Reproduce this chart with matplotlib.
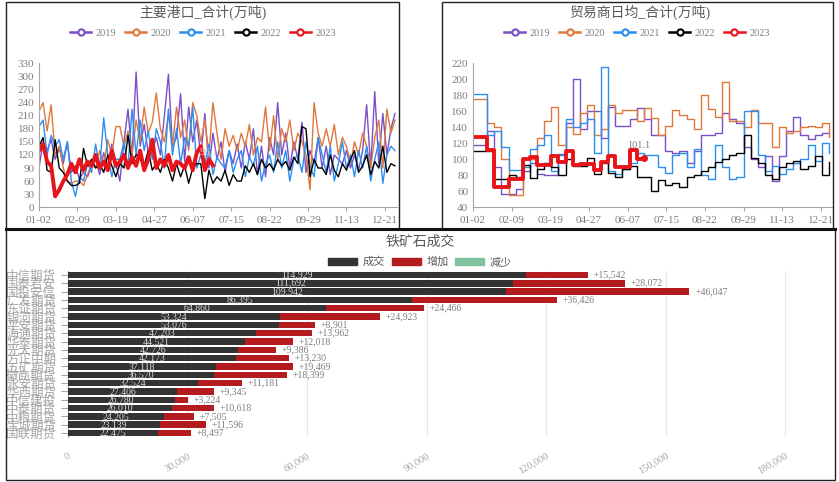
import numpy as np
import matplotlib
matplotlib.use("Agg")
import matplotlib.pyplot as plt
from matplotlib.lines import Line2D
from matplotlib.patches import Patch, Rectangle

plt.rcParams['font.family'] = ['Liberation Serif', 'Noto Sans CJK SC', 'DejaVu Sans']

# ---------- data ----------
tick_labels = ['01-02', '02-09', '03-19', '04-27', '06-07',
               '07-15', '08-22', '09-29', '11-13', '12-21']
years = ['2019', '2020', '2021', '2022', '2023']
colors = ['#7b4fc8', '#e0783c', '#2a8ff0', '#000000', '#e8141a']

# 主要港口_合计 (every 4th day)
port_2019 = [90, 150, 130, 155, 110, 135, 100, 150, 80, 95,
             65, 80, 70, 95, 110, 75, 125, 90, 145, 100,
             60, 150, 225, 115, 310, 140, 190, 125, 130, 160,
             120, 210, 305, 140, 160, 260, 105, 230, 150, 200,
             115, 215, 90, 170, 110, 150, 80, 130, 100, 145,
             90, 150, 110, 180, 75, 140, 70, 160, 120, 240,
             120, 170, 90, 150, 110, 195, 80, 130, 100, 160,
             90, 140, 75, 120, 110, 100, 130, 90, 120, 85,
             130, 235, 90, 265, 100, 215, 120, 180, 215]
port_2020 = [220, 240, 175, 235, 120, 140, 90, 60, 55, 60,
             60, 50, 75, 100, 90, 130, 95, 155, 120, 185,
             185, 140, 175, 120, 200, 150, 230, 170, 195, 262,
             180, 150, 215, 140, 230, 160, 200, 130, 240, 210,
             150, 200, 120, 240, 170, 110, 180, 140, 165, 130,
             170, 140, 190, 120, 160, 150, 230, 130, 210, 110,
             180, 150, 200, 130, 170, 150, 120, 40, 240, 170,
             140, 180, 140, 190, 120, 160, 140, 100, 150, 120,
             170, 140, 90, 160, 200, 90, 225, 170, 200]
port_2021 = [185, 200, 120, 165, 140, 155, 110, 150, 60, 25,
             70, 60, 100, 80, 145, 90, 205, 120, 70, 110,
             110, 150, 90, 225, 120, 200, 130, 175, 110, 180,
             150, 90, 225, 120, 180, 100, 160, 140, 230, 90,
             120, 100, 145, 75, 115, 100, 90, 130, 80, 110,
             130, 70, 115, 95, 140, 60, 100, 120, 80, 150,
             90, 130, 60, 110, 120, 80, 150, 95, 70, 160,
             120, 80, 140, 60, 100, 150, 90, 120, 70, 130,
             90, 140, 60, 110, 150, 55, 120, 140, 130]
port_2022 = [140, 160, 85, 80, 155, 90, 80, 60, 50, 50,
             55, 135, 95, 110, 90, 100, 80, 120, 95, 70,
             100, 90, 165, 100, 120, 110, 95, 130, 85, 100,
             80, 110, 90, 60, 100, 70, 95, 55, 90, 100,
             100, 20, 85, 55, 70, 60, 85, 50, 75, 60,
             60, 95, 80, 100, 75, 110, 90, 100, 85, 110,
             95, 105, 85, 115, 100, 185, 180, 70, 110, 90,
             90, 75, 120, 85, 70, 100, 85, 110, 130, 80,
             95, 120, 75, 105, 90, 140, 80, 100, 95]
port_2023 = [130, 145, 105, 95, 25, 40, 60, 75, 100, 80,
             110, 85, 105, 95, 120, 90, 105, 85, 130, 95,
             105, 120, 90, 115, 95, 130, 85, 110, 155, 90,
             110, 95, 120, 85, 105, 100, 90, 115, 85, 125,
             140, 85, 110, 96.1]

# 贸易商日均_合计 (weekly)
trade_2019 = [118, 118, 135, 90, 57, 57, 63, 85, 95, 82, 80, 80, 107, 145, 200, 138,
              160, 160, 127, 165, 142, 142, 150, 164, 150, 130, 130, 110, 108, 110,
              95, 110, 130, 131, 133, 158, 150, 145, 115, 100, 90, 104, 73, 104, 135,
              153, 130, 126, 130, 133, 133]
trade_2020 = [175, 175, 145, 140, 100, 55, 55, 100, 100, 127, 148, 165, 118, 140, 132,
              158, 168, 130, 138, 168, 158, 162, 162, 148, 164, 152, 130, 142, 162,
              155, 150, 138, 180, 163, 153, 197, 148, 148, 140, 162, 145, 145, 115,
              140, 133, 135, 140, 142, 140, 146, 128]
trade_2021 = [182, 182, 130, 135, 115, 87, 87, 90, 113, 118, 130, 85, 105, 150, 140,
              145, 150, 108, 215, 85, 82, 88, 95, 108, 105, 105, 90, 83, 105, 108, 90,
              113, 80, 75, 118, 90, 75, 78, 160, 160, 105, 85, 92, 82, 88, 95, 100,
              118, 98, 120, 108]
trade_2022 = [110, 110, 110, 75, 75, 80, 78, 93, 77, 88, 95, 90, 80, 100, 92, 92, 102,
              82, 95, 83, 78, 88, 92, 78, 78, 60, 74, 68, 70, 65, 78, 80, 85, 90, 97,
              100, 105, 108, 130, 102, 95, 80, 75, 90, 95, 98, 88, 92, 104, 80, 97]
trade_2023 = [128, 128, 112, 66, 66, 76, 76, 100, 103, 93, 93, 104, 97, 110, 93, 94,
              94, 87, 97, 104, 91, 91, 112, 101, 101.1]

# 铁矿石成交
brokers = ['中信期货', '国泰君安', '国投安信', '广发期货', '东证期货', '银河期货',
           '平安期货', '海通期货', '华泰期货', '光大期货', '方正中期', '五矿期货',
           '徽商期货', '永安期货', '华西期货', '中信建投', '中泰期货', '中粮期货',
           '宝城期货', '国联期货']
volume = [114929, 111692, 109942, 86395, 64860, 53324, 53076, 47203, 44521, 42726,
          42173, 37118, 36570, 32524, 27406, 26780, 26010, 24205, 23139, 22475]
increase = [15542, 28072, 46047, 36426, 24466, 24923, 8901, 13962, 12018, 9386,
            13230, 19469, 18399, 11181, 9345, 3224, 10618, 7505, 11596, 8497]

# ---------- figure ----------
fig = plt.figure(figsize=(8.39, 4.82), dpi=100)
W, H = 839, 482


def fx(px):
    return px / W


def fy(py):
    return 1 - py / H


# panel frames
for x0, y0, x1, y1 in [(6, 2, 399, 229), (442, 2, 833, 229), (6, 229, 835, 480)]:
    fig.add_artist(Rectangle((fx(x0), fy(y1)), fx(x1 - x0), (y1 - y0) / H,
                             transform=fig.transFigure, fill=False,
                             edgecolor='#222222', linewidth=1.0))
fig.add_artist(Line2D([fx(6), fx(835)], [fy(229), fy(229)], transform=fig.transFigure,
                      color='#111111', linewidth=2.2))

gray = '#7f7f7f'


def style_top(ax, ylim, yticks, xmax):
    ax.set_xlim(0, xmax)
    ax.set_ylim(*ylim)
    ax.set_yticks(yticks)
    ax.set_xticks(np.arange(len(tick_labels)) * 38)
    ax.set_xticklabels(tick_labels)
    for s in ['top', 'right']:
        ax.spines[s].set_visible(False)
    for s in ['left', 'bottom']:
        ax.spines[s].set_color('#a6a6a6')
        ax.spines[s].set_linewidth(0.8)
    ax.tick_params(axis='both', colors='#a6a6a6', labelcolor=gray, labelsize=8,
                   length=3, width=0.8)
    ax.tick_params(axis='y', length=0)


def top_legend(cx):
    handles = [Line2D([], [], color=c, lw=1.8, marker='o', markersize=4.5,
                      markerfacecolor='white', markeredgewidth=1.5)
               for c in colors]
    fig.legend(handles, years, loc='center', bbox_to_anchor=(fx(cx), fy(33)),
               ncol=5, frameon=False, fontsize=7.5, handlelength=2.0,
               columnspacing=0.9, handletextpad=0.4, labelcolor=gray)


# top-left
ax1 = fig.add_axes([fx(39), fy(207.3), fx(397 - 39), (207.3 - 63.3) / H])
series1 = [port_2019, port_2020, port_2021, port_2022]
for vals, c in zip(series1, colors[:4]):
    x = np.arange(len(vals)) * 4
    ax1.plot(x, vals, color=c, lw=1.0)
x23 = np.arange(len(port_2023)) * 4
ax1.plot(x23, port_2023, color=colors[4], lw=2.8)
ax1.annotate('96.1', (x23[-1], port_2023[-1]), xytext=(-3, 9), textcoords='offset points',
             ha='center', va='center', fontsize=7.5, color='#d9d9d9')
style_top(ax1, (0, 330), np.arange(0, 331, 30), 354)
fig.text(fx(203), fy(12), '主要港口_合计(万吨)', ha='center', va='center',
         fontsize=10, color='#595959')
top_legend(203)

# top-right
ax2 = fig.add_axes([fx(473), fy(207.3), fx(832 - 473), (207.3 - 63.3) / H])
series2 = [trade_2019, trade_2020, trade_2021, trade_2022]
for vals, c in zip(series2, colors[:4]):
    x = np.arange(len(vals)) * 7
    ax2.plot(x, vals, color=c, lw=1.0, drawstyle='steps-post')
xt = np.arange(len(trade_2023)) * 7
xt = np.minimum(xt, 172)
ax2.plot(xt, trade_2023, color=colors[4], lw=2.8, drawstyle='steps-post')
ax2.plot(xt[-1], trade_2023[-1], 'o', color=colors[4], markersize=4)
ax2.annotate('101.1', (xt[-1], trade_2023[-1]), xytext=(-4, 9), textcoords='offset points',
             ha='center', va='center', fontsize=7.5, color='#7f7f7f')
style_top(ax2, (40, 220), np.arange(40, 221, 20), 353)
fig.text(fx(640), fy(12), '贸易商日均_合计(万吨)', ha='center', va='center',
         fontsize=10, color='#595959')
top_legend(637)

# bottom
ax3 = fig.add_axes([fx(68), fy(437.2), fx(817 - 68), (437.2 - 270.8) / H])
y = np.arange(len(brokers))
ax3.barh(y, volume, height=0.78, color='#333333', zorder=3)
ax3.barh(y, increase, left=volume, height=0.78, color='#b31b1e', zorder=3)
for i in range(len(brokers)):
    ax3.text(volume[i] / 2, y[i], f'{volume[i]:,}', ha='center', va='center',
             fontsize=7, color='#d9d9d9', zorder=4)
    ax3.annotate(f'+{increase[i]:,}', (volume[i] + increase[i], y[i]), xytext=(4, 0),
                 textcoords='offset points', ha='left', va='center',
                 fontsize=7, color=gray)
ax3.set_ylim(len(brokers) - 0.5, -0.5)
ax3.set_xlim(0, 188000)
ax3.set_yticks(y)
ax3.set_yticklabels(brokers, fontsize=9, color='#a0a0a0', family=['Noto Sans CJK SC'])
xt3 = np.arange(0, 180001, 30000)
ax3.set_xticks(xt3)
ax3.set_xticklabels([f'{v:,}' for v in xt3], rotation=30, ha='right',
                    rotation_mode='anchor', fontsize=7.5, color='#a6a6a6')
ax3.grid(axis='x', color='#e8e8e8', linewidth=0.8, zorder=0)
for s in ['top', 'right', 'bottom']:
    ax3.spines[s].set_visible(False)
ax3.spines['left'].set_color('#a6a6a6')
ax3.tick_params(axis='y', colors='#a6a6a6', length=5, width=0.8)
ax3.tick_params(axis='x', length=0, pad=10)

fig.text(fx(420), fy(242), '铁矿石成交', ha='center', va='center',
         fontsize=10, color='#595959')
handles = [Patch(color='#333333'), Patch(color='#b31b1e'), Patch(color='#7fc29b')]
fig.legend(handles, ['成交', '增加', '减少'], loc='center',
           bbox_to_anchor=(fx(420), fy(262)), ncol=3, frameon=False, fontsize=8,
           handlelength=2.6, handleheight=0.7, columnspacing=0.6,
           handletextpad=0.5, labelcolor='#595959')

fig.savefig('out.png', dpi=100)
